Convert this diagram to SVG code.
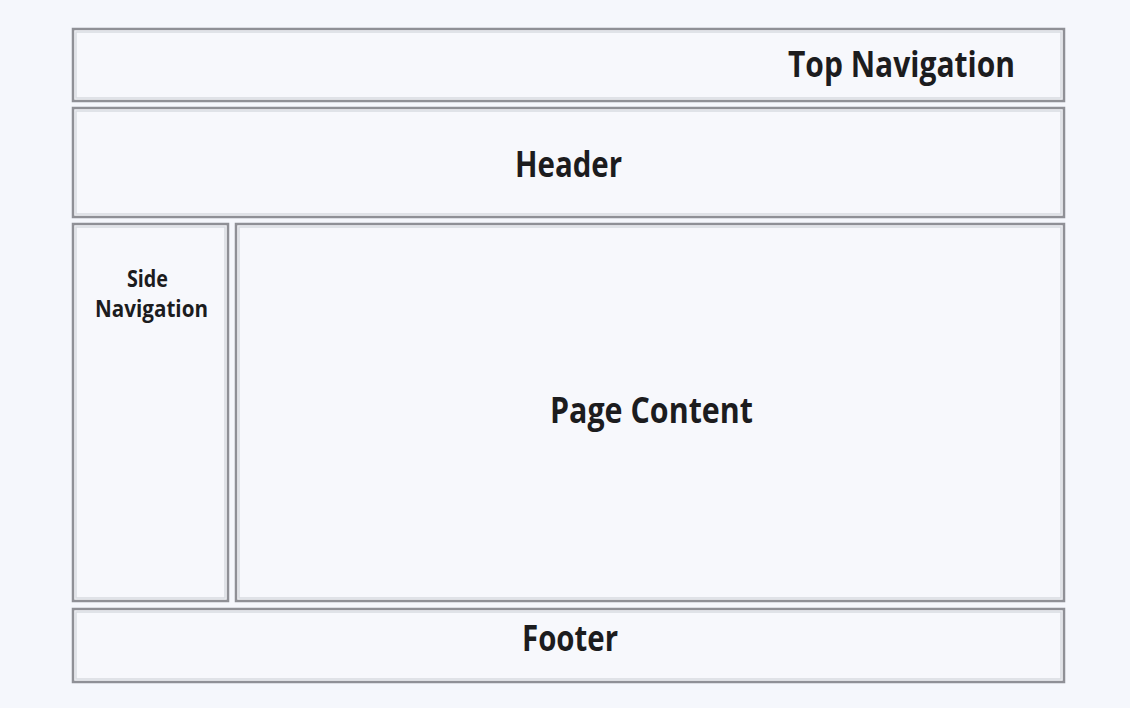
<svg xmlns="http://www.w3.org/2000/svg" width="1130" height="708" viewBox="0 0 1130 708">
<style>
.box{fill:#f7f8fc;stroke:#8f9096;stroke-width:2.5}
.inner{fill:none;stroke:#d9dbe1;stroke-width:1.5}
.lbl{font-family:"Open Sans","DejaVu Sans Condensed","Liberation Sans",sans-serif;font-weight:700;fill:#1c1c1e}
</style>
<rect x="0" y="0" width="1130" height="708" fill="#f5f7fc"/>
<g id="top-navigation">
<rect class="box" x="73" y="29" width="991" height="72"/>
<rect class="inner" x="76" y="32" width="985" height="66"/>
<text class="lbl" x="788" y="77" font-size="35" textLength="227" lengthAdjust="spacingAndGlyphs">Top Navigation</text>
</g>
<g id="header">
<rect class="box" x="73" y="108" width="991" height="109"/>
<rect class="inner" x="76" y="111" width="985" height="103"/>
<text class="lbl" x="515" y="177" font-size="35" textLength="107" lengthAdjust="spacingAndGlyphs">Header</text>
</g>
<g id="side-navigation">
<rect class="box" x="73" y="224" width="155" height="377"/>
<rect class="inner" x="76" y="227" width="149" height="371"/>
<text class="lbl" x="127" y="287" font-size="24" textLength="41" lengthAdjust="spacingAndGlyphs">Side</text>
<text class="lbl" x="95" y="317" font-size="24" textLength="113" lengthAdjust="spacingAndGlyphs">Navigation</text>
</g>
<g id="page-content">
<rect class="box" x="236" y="224" width="828" height="377"/>
<rect class="inner" x="239" y="227" width="822" height="371"/>
<text class="lbl" x="550" y="423" font-size="35" textLength="203" lengthAdjust="spacingAndGlyphs">Page Content</text>
</g>
<g id="footer">
<rect class="box" x="73" y="609" width="991" height="73"/>
<rect class="inner" x="76" y="612" width="985" height="67"/>
<text class="lbl" x="522" y="651" font-size="35" textLength="96" lengthAdjust="spacingAndGlyphs">Footer</text>
</g>
<g id="connectors"/>
</svg>
